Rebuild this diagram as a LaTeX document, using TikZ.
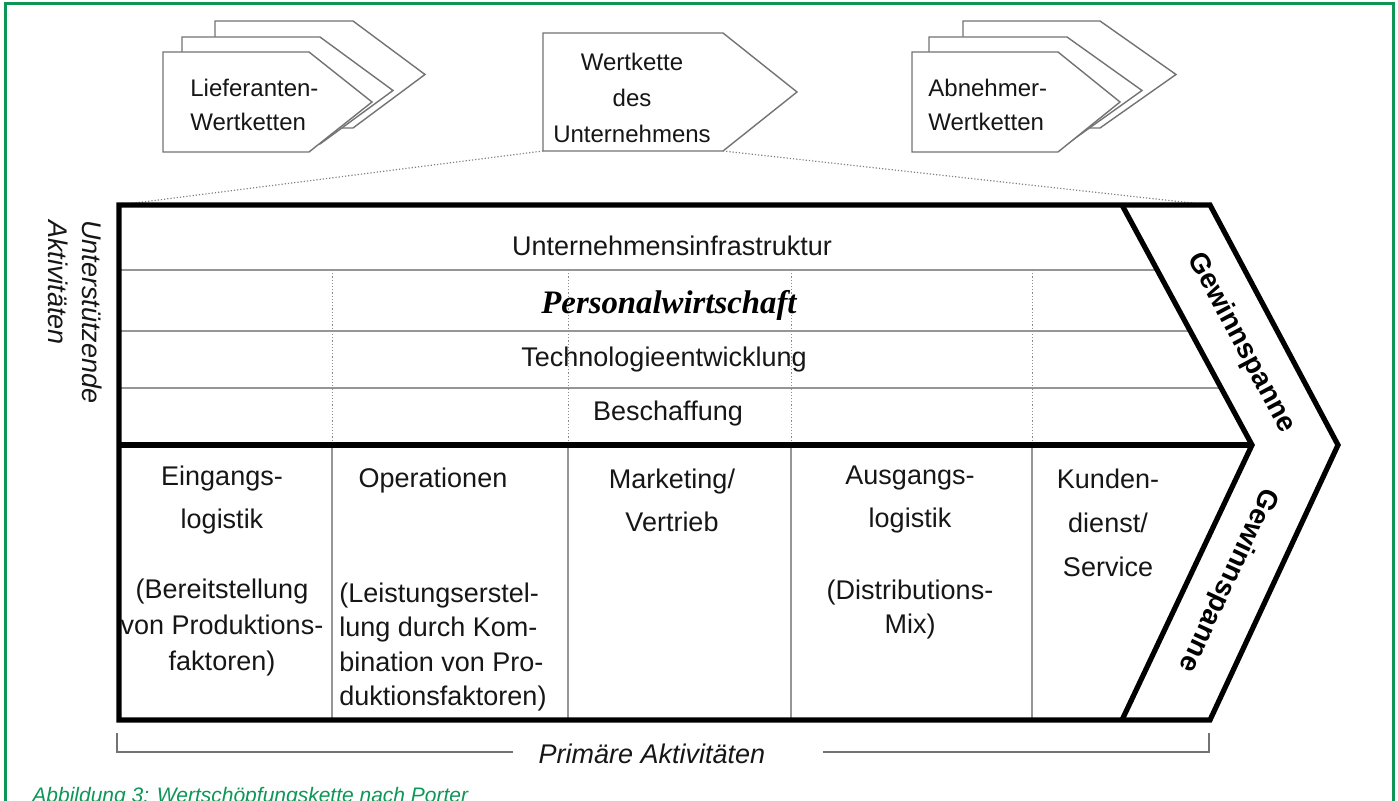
\documentclass[tikz,border=0pt]{standalone}
\usepackage{fontspec}
\setmainfont{Liberation Sans}
\newfontfamily\serifschrift{Liberation Serif}
\usetikzlibrary{calc}
\definecolor{rahmengruen}{RGB}{14,150,86}
\definecolor{linie}{RGB}{150,150,150}
\definecolor{schrift}{RGB}{22,22,22}
\tikzset{
    kette/.style = {draw=black!55, line width=0.7pt, fill=white, line join=miter},
    kettentext/.style = {inner sep=0pt, text=schrift, font=\fontsize{12}{17}\selectfont},
    rahmen/.style = {draw, line width=2.6pt, line join=miter},
    trenner/.style = {draw=linie, line width=0.6pt},
    punktlinie/.style = {draw=black!50, line width=0.6pt, densely dotted},
    zeile/.style = {inner sep=0pt, text=schrift, align=center,
        font=\fontsize{13.5}{21.5}\selectfont},
    klammerzeile/.style = {zeile, font=\fontsize{13.5}{17.5}\selectfont},
    spanne/.style = {inner sep=0pt, text=black, font=\bfseries\fontsize{14}{16}\selectfont},
    klammer/.style = {draw=black!55, line width=0.6pt},
    gruenrahmen/.style = {draw=rahmengruen, line width=1.5pt}
}
\newcommand{\kette}[5]{\draw[kette] (#1,#2) -- ++(#3,0) -- ++(#4,#5/2) -- ++(-#4,#5/2) -- ++(-#3,0) -- cycle;}

\begin{document}
\begin{tikzpicture}[x=0.5pt,y=-0.5pt]
    \useasboundingbox (0,0) rectangle (1398,801);
    \draw[gruenrahmen] (5,810) -- (5,4) -- (1393,4) -- (1393,810);

    \kette{215}{21}{138}{72}{107}
    \kette{182}{37}{138}{73}{107}
    \kette{163}{52}{146}{63}{100}
    \kette{963}{21}{137}{76}{107}
    \kette{929}{37}{138}{75}{107}
    \kette{912}{52}{146}{62}{100}
    \kette{543}{33}{180}{74}{118}
    \node[kettentext, anchor=west, align=left] (lieferanten) at (190,105) {Lieferanten-\\Wertketten};
    \node[kettentext, align=center, font=\fontsize{12}{18}\selectfont] (wertkette) at (632,98) {Wertkette\\des\\Unternehmens};
    \node[kettentext, anchor=west, align=left] (abnehmer) at (928,105) {Abnehmer-\\Wertketten};

    \coordinate (wk-ul) at (543,151);
    \coordinate (wk-ur) at (723,151);
    \coordinate (olo) at (119,205);
    \coordinate (oro) at (1210,205);
    \coordinate (spitze) at (1338,445);
    \coordinate (uro) at (1210,720);
    \coordinate (ulo) at (119,720);
    \coordinate (io) at (1122,205);
    \coordinate (ispitze) at (1252,445);
    \coordinate (iu) at (1122,720);
    \coordinate (mitte) at (119,445);
    \draw[punktlinie] (wk-ul) -- (olo);
    \draw[punktlinie] (wk-ur) -- (oro);

    \foreach \y/\x in {270/1157,331/1190,388/1221}
        \draw[trenner] (119,\y) -- (\x,\y);
    \foreach \x in {332,568,791,1032} {
        \draw[punktlinie, draw=black!45, line width=0.5pt] (\x,270) -- (\x,445);
        \draw[trenner] (\x,445) -- (\x,720);
    }
    \draw[rahmen] (olo) -- (oro) -- (spitze) -- (uro) -- (ulo) -- cycle;
    \draw[rahmen] (io) -- (ispitze) -- (iu);
    \draw[rahmen] (mitte) -- (ispitze);

    \node[zeile] (infra) at (672,246) {Unternehmensinfrastruktur};
    \node[zeile, text=black, font=\serifschrift\bfseries\itshape\fontsize{16.4}{20}\selectfont] (personal) at (669,305) {Personalwirtschaft};
    \node[zeile] (technologie) at (664,360) {Technologieentwicklung};
    \node[zeile] (beschaffung) at (668,414) {Beschaffung};

    \node[zeile] (eingang) at (222,500) {Eingangs-\\logistik};
    \node[klammerzeile, font=\fontsize{13.5}{18}\selectfont] (eingang-zusatz) at (222,628) {(Bereitstellung\\von Produktions-\\faktoren)};
    \node[zeile] (operationen) at (433,481) {Operationen};
    \node[klammerzeile, anchor=west, align=left, font=\fontsize{13.5}{17.2}\selectfont] (operationen-zusatz) at (339,647) {(Leistungserstel-\\lung durch Kom-\\bination von Pro-\\duktionsfaktoren)};
    \node[zeile] (marketing) at (672,500) {Marketing/\\Vertrieb};
    \node[zeile] (ausgang) at (910,500) {Ausgangs-\\logistik};
    \node[klammerzeile, font=\fontsize{13.5}{17}\selectfont] (ausgang-zusatz) at (910,610) {(Distributions-\\Mix)};
    \node[zeile, font=\fontsize{13.5}{22}\selectfont] (kunden) at (1108,523) {Kunden-\\dienst/\\Service};

    \node[spanne, rotate=-62] (spanne-oben) at (1241,343) {Gewinnspanne};
    \node[spanne, rotate=245] (spanne-unten) at (1228,580) {Gewinnspanne};

    \node[zeile, rotate=-90, align=left, font=\itshape\fontsize{13.5}{17}\selectfont] (unterstuetzend) at (75,312) {Unterstützende\\Aktivitäten};

    \coordinate (kl-l) at (117,733);
    \coordinate (kl-lm) at (513,752);
    \coordinate (kl-rm) at (823,752);
    \coordinate (kl-r) at (1209,733);
    \draw[klammer] (kl-l) |- (kl-lm);
    \draw[klammer] (kl-rm) -| (kl-r);
    \node[zeile, font=\itshape\fontsize{13.5}{16}\selectfont] (primaer) at (652,754) {Primäre Aktivitäten};

    \node[inner sep=0pt, anchor=base west, text=rahmengruen, font=\itshape\fontsize{10.5}{12}\selectfont] (unterschrift) at (32,802) {Abbildung 3: Wertschöpfungskette nach Porter};
\end{tikzpicture}
\end{document}
